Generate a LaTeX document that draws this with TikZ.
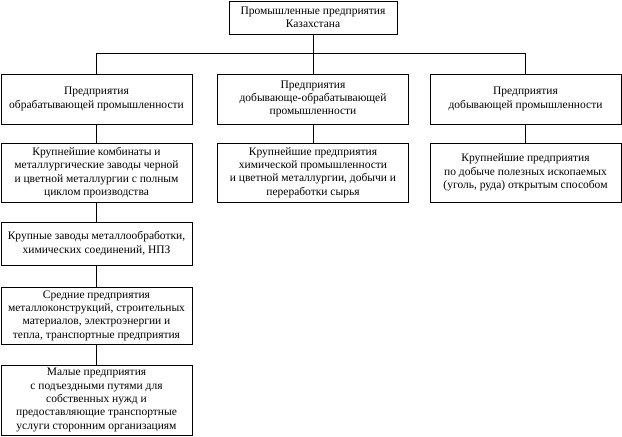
\documentclass[tikz,border=0pt]{standalone}
\usepackage{fontspec}
\setmainfont{Liberation Serif}
\begin{document}
\begin{tikzpicture}[x=1pt,y=-1pt,
  box/.style={draw=black, line width=0.8pt, align=center, inner sep=0pt,
    minimum width=191pt, font=\fontsize{11.5}{13.3}\selectfont},
  conn/.style={draw=black, line width=0.8pt}]
\useasboundingbox (0,0) rectangle (622,437);
\node[box, minimum width=168pt, minimum height=33pt] (top) at (313,17.5)
  {Промышленные предприятия\\Казахстана};
\node[box, minimum height=50pt] (r2L) at (96.5,99)
  {Предприятия\\обрабатывающей промышленности};
\node[box, minimum height=50pt] (r2M) at (313,99)
  {Предприятия\\добывающе-обрабатывающей\\промышленности};
\node[box, minimum height=50pt] (r2R) at (525.5,99)
  {Предприятия\\добывающей промышленности};
\node[box, minimum height=59pt] (r3L) at (96.5,172.5)
  {Крупнейшие комбинаты и\\металлургические заводы черной\\и цветной металлургии с полным\\циклом производства};
\node[box, minimum height=59pt] (r3M) at (313,172.5)
  {Крупнейшие предприятия\\химической промышленности\\и цветной металлургии, добычи и\\переработки сырья};
\node[box, minimum height=59pt] (r3R) at (525.5,172.5)
  {Крупнейшие предприятия\\по добыче полезных ископаемых\\(уголь, руда) открытым способом};
\node[box, minimum height=43pt] (r4L) at (96.5,243.5)
  {Крупные заводы металлообработки,\\химических соединений, НПЗ};
\node[box, minimum height=57pt] (r5L) at (96.5,315.5)
  {Средние предприятия\\металлоконструкций, строительных\\материалов, электроэнергии и\\тепла, транспортные предприятия};
\node[box, minimum height=70pt] (r6L) at (96.5,400)
  {Малые предприятия\\с подъездными путями для\\собственных нужд и\\предоставляющие транспортные\\услуги сторонним организациям};
\coordinate (busL) at (96.5,53);
\coordinate (busM) at (313,53);
\coordinate (busR) at (525.5,53);
\draw[conn] (top.south) -- (busM);
\draw[conn] (busL) -- (busR);
\draw[conn] (busL) -- (r2L.north);
\draw[conn] (busM) -- (r2M.north);
\draw[conn] (busR) -- (r2R.north);
\draw[conn] (r2L) -- (r3L);
\draw[conn] (r2M) -- (r3M);
\draw[conn] (r2R) -- (r3R);
\draw[conn] (r3L) -- (r4L);
\draw[conn] (r4L) -- (r5L);
\draw[conn] (r5L) -- (r6L);
\end{tikzpicture}
\end{document}
